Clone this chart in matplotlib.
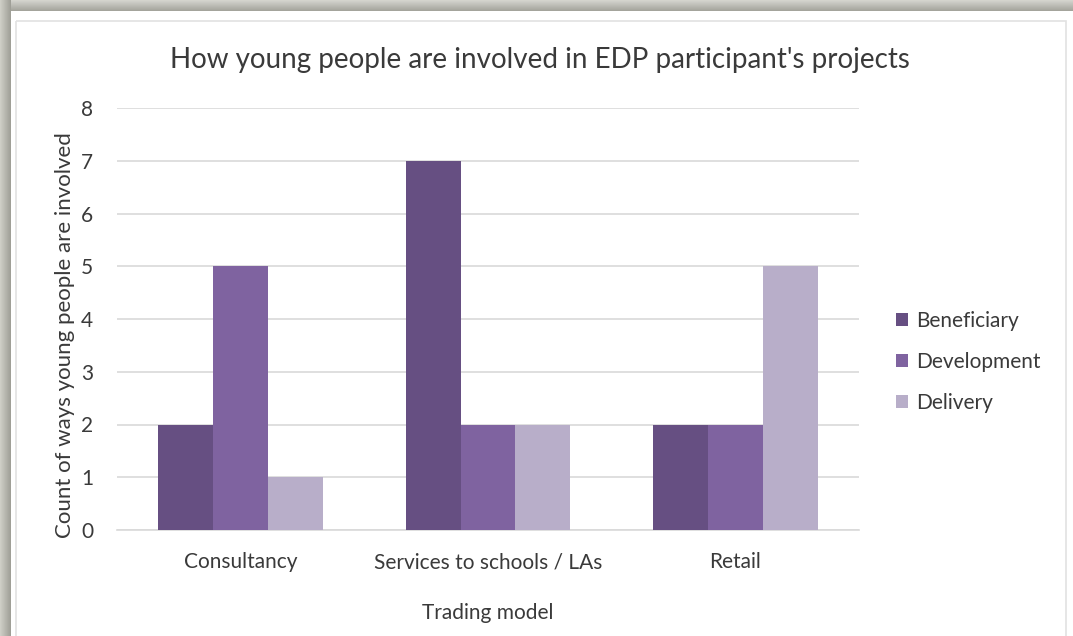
import matplotlib
matplotlib.use("Agg")
import matplotlib.pyplot as plt
import numpy as np
from matplotlib.patches import Rectangle

categories = ["Consultancy", "Services to schools / LAs", "Retail"]
series_names = ["Beneficiary", "Development", "Delivery"]
beneficiary = [2, 7, 2]
development = [5, 2, 2]
delivery = [1, 2, 5]
colors = ["#664f82", "#7f63a0", "#b8aec9"]

plt.rcParams['font.family'] = ['Lato', 'DejaVu Sans']

W, H = 1073, 636
fig = plt.figure(figsize=(W / 100, H / 100), dpi=100)
fig.patch.set_facecolor("white")

# frame background (gray gradient bands top/left)
bg = fig.add_axes([0, 0, 1, 1], zorder=-10)
bg.axis("off")
band = 11
grad = np.linspace(0, 1, 50).reshape(-1, 1)
bg.imshow(grad, extent=[0, W, band, 0],
          cmap=matplotlib.colors.LinearSegmentedColormap.from_list("g", ["#d6d6d0", "#a3a39b"]),
          aspect="auto", zorder=0)
gradl = np.linspace(0, 1, 50).reshape(1, -1)
bg.imshow(gradl, extent=[0, band, H, 0],
          cmap=matplotlib.colors.LinearSegmentedColormap.from_list("g2", ["#d0d0c8", "#9e9e96"]),
          aspect="auto", zorder=0)
bg.add_patch(Rectangle((band, band), W - band, H - band, facecolor="white", edgecolor="none", zorder=1))
bg.add_patch(Rectangle((16, 21), 1066 - 16, H, facecolor="none", edgecolor="#e2e2e2", lw=1.2, zorder=2))
bg.set_xlim(0, W)
bg.set_ylim(H, 0)

# main axes
left, right = 117 / W, 859 / W
bottom, top = 1 - 530 / H, 1 - 108 / H
ax = fig.add_axes([left, bottom, right - left, top - bottom])
ax.set_facecolor("none")

x = np.arange(len(categories))
w = 0.222
for i, (vals, name) in enumerate(zip([beneficiary, development, delivery], series_names)):
    ax.bar(x + (i - 1) * w, vals, width=w, color=colors[i], label=name, zorder=3)

ax.set_xlim(-0.5, 2.5)
ax.set_ylim(0, 8)
ax.set_yticks(range(0, 9))
ax.grid(axis="y", color="#d9d9d9", lw=1.2, zorder=0)
for s in ["top", "right", "left"]:
    ax.spines[s].set_visible(False)
ax.spines["bottom"].set_color("#d9d9d9")
ax.spines["bottom"].set_linewidth(1.2)
ax.tick_params(axis="both", length=0, labelsize=15, colors="#3a3a3a")
ax.tick_params(axis="y", pad=17)
ax.tick_params(axis="x", pad=16)
ax.set_xticks(x)
ax.set_xticklabels(categories)

ax.set_xlabel("Trading model", fontsize=15, color="#3a3a3a", labelpad=22)
ax.set_ylabel("Count of ways young people are involved", fontsize=16, color="#3a3a3a")
ax.yaxis.set_label_coords(-0.057, 0.462)
fig.text(540 / W, 1 - 60 / H,
         "How young people are involved in EDP participant's projects",
         ha="center", va="center", fontsize=20, color="#3a3a3a")

leg = ax.legend(loc="center left", bbox_to_anchor=(1.024, 0.398), frameon=False, fontsize=15,
                handlelength=0.6, handleheight=0.6, handletextpad=0.4, labelspacing=1.0)
for t in leg.get_texts():
    t.set_color("#3a3a3a")

fig.savefig("out.png", dpi=100, facecolor="white")
